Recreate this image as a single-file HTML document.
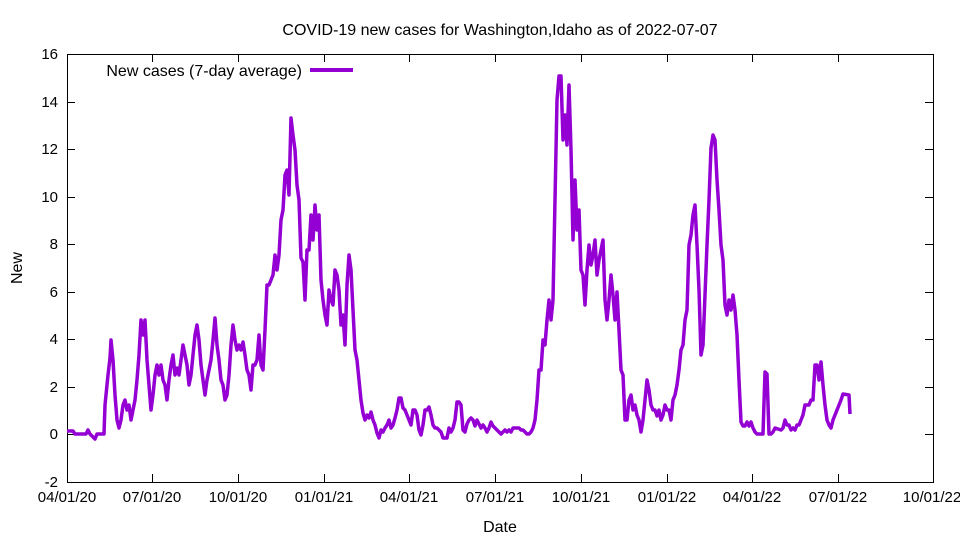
<!DOCTYPE html>
<html><head><meta charset="utf-8"><style>
html,body{margin:0;padding:0;background:#fff;}
svg{display:block;font-family:"Liberation Sans",Arial,sans-serif;}
</style></head><body>
<svg width="960" height="540" viewBox="0 0 960 540" xmlns="http://www.w3.org/2000/svg">
<rect width="960" height="540" fill="#fff"/>
<text x="500" y="35" font-size="16" text-anchor="middle">COVID-19 new cases for Washington,Idaho as of 2022-07-07</text>
<rect x="67.5" y="54.5" width="866" height="428" fill="none" stroke="#000" stroke-width="1"/>
<g stroke="#000" stroke-width="1">
<path d="M67 482.5h8M67 434.5h8M67 387.5h8M67 339.5h8M67 292.5h8M67 244.5h8M67 197.5h8M67 149.5h8M67 102.5h8M67 54.5h8"/>
<path d="M933 482.5h-8M933 434.5h-8M933 387.5h-8M933 339.5h-8M933 292.5h-8M933 244.5h-8M933 197.5h-8M933 149.5h-8M933 102.5h-8M933 54.5h-8"/>
<path d="M152.5 482v-8M238.5 482v-8M324.5 482v-8M409.5 482v-8M495.5 482v-8M581.5 482v-8M667.5 482v-8M752.5 482v-8M838.5 482v-8M152.5 54v8M238.5 54v8M324.5 54v8M409.5 54v8M495.5 54v8M581.5 54v8M667.5 54v8M752.5 54v8M838.5 54v8"/>
</g>
<g font-size="15" text-anchor="end">
<text x="58" y="487">-2</text><text x="58" y="439">0</text><text x="58" y="392">2</text><text x="58" y="344">4</text><text x="58" y="297">6</text><text x="58" y="249">8</text><text x="58" y="202">10</text><text x="58" y="154">12</text><text x="58" y="107">14</text><text x="58" y="59">16</text>
</g>
<g font-size="15" text-anchor="middle">
<text x="67" y="502">04/01/20</text><text x="152" y="502">07/01/20</text><text x="238" y="502">10/01/20</text><text x="324" y="502">01/01/21</text><text x="409" y="502">04/01/21</text><text x="495" y="502">07/01/21</text><text x="581" y="502">10/01/21</text><text x="667" y="502">01/01/22</text><text x="752" y="502">04/01/22</text><text x="838" y="502">07/01/22</text><text x="932" y="502">10/01/22</text>
</g>
<text x="500" y="532" font-size="16" text-anchor="middle">Date</text>
<text x="22" y="268" font-size="16" text-anchor="middle" transform="rotate(-90 22 268)">New</text>
<text x="302" y="76" font-size="16" text-anchor="end">New cases (7-day average)</text>
<line x1="310" y1="70" x2="353" y2="70" stroke="#9400d3" stroke-width="4"/>
<polyline fill="none" stroke="#9400d3" stroke-width="3.5" stroke-linejoin="round" points="67,431 73,431 75,434 86,434 88,430 90,434 95,439 97,434 104,434 105,405 108,375 110,358 111,340 113,360 115,395 117,420 119,428 121,420 123,405 125,400 127,410 129,405 131,420 133,410 135,400 137,380 139,355 141,320 143,335 145,320 147,360 149,385 151,410 153,395 155,375 157,365 159,375 161,365 163,380 165,385 167,400 169,380 171,365 173,355 175,375 177,368 179,375 181,360 183,345 185,355 187,365 189,385 191,375 193,355 195,335 197,325 199,340 201,365 203,380 205,395 207,380 209,370 211,360 213,340 215,318 217,345 219,360 221,380 223,385 225,400 227,395 229,375 231,345 233,325 235,340 237,350 239,345 241,350 243,342 245,355 247,370 249,375 251,390 253,365 255,365 257,360 259,335 261,365 263,370 265,330 267,285 269,285 271,280 273,275 275,255 277,270 279,255 281,220 283,210 285,175 287,170 289,195 291,118 293,135 295,150 297,185 299,200 301,258 303,262 305,300 307,250 309,250 311,215 313,240 315,205 317,230 319,215 321,280 323,300 325,315 327,325 329,290 331,300 333,305 335,270 337,275 339,290 341,325 343,315 345,345 347,285 349,255 351,270 353,310 355,350 357,360 359,380 361,400 363,413 365,420 367,415 369,418 371,412 373,420 375,425 377,433 379,438 381,430 383,432 385,428 387,425 389,420 391,428 393,425 395,418 397,410 399,398 401,398 403,408 405,410 407,415 409,420 411,425 413,410 415,410 417,415 419,430 421,435 423,425 425,410 427,410 429,407 431,415 433,425 435,428 437,428 439,430 441,432 443,438 445,438 447,438 449,428 451,432 453,428 455,420 457,402 459,402 461,405 463,430 465,432 467,424 469,420 471,418 473,420 475,426 477,420 479,424 481,428 483,425 485,428 487,432 489,428 491,422 493,426 495,428 497,430 499,432 501,434 503,432 505,430 507,432 509,430 511,432 513,428 515,428 517,428 519,428 521,430 523,430 525,432 527,434 529,434 531,432 533,428 535,420 537,400 539,370 541,370 543,340 545,345 547,320 549,300 551,320 553,300 555,200 557,100 559,76 561,76 563,140 565,115 567,145 569,85 571,150 573,240 575,180 577,230 579,210 581,270 583,275 585,305 587,270 589,245 591,265 593,255 595,240 597,275 599,260 601,250 603,240 605,300 607,320 609,300 611,275 613,295 615,320 617,292 619,330 621,370 623,375 625,420 627,420 629,400 631,395 633,410 635,405 637,415 639,420 641,432 643,420 645,400 647,380 649,390 651,405 653,410 655,410 657,416 659,410 661,420 663,415 665,405 667,410 669,410 671,420 673,400 675,395 677,385 679,370 681,350 683,345 685,320 687,310 689,245 691,235 693,215 695,205 697,245 699,290 701,355 703,345 705,295 707,245 709,200 711,148 713,135 715,140 717,180 719,210 721,245 723,260 725,305 727,315 729,300 731,310 733,295 735,310 737,335 739,380 741,422 743,426 745,426 747,422 749,426 751,422 753,428 755,432 757,434 763,434 765,372 767,374 769,434 771,434 773,432 775,428 781,430 783,428 785,420 787,425 789,425 791,430 793,428 795,430 797,425 799,425 801,420 803,415 805,405 809,405 811,400 813,400 815,365 817,365 819,380 821,362 823,385 825,405 827,420 829,425 831,428 833,420 835,415 837,410 839,405 841,400 843,394 849,395 850,414"/>
</svg>
</body></html>
